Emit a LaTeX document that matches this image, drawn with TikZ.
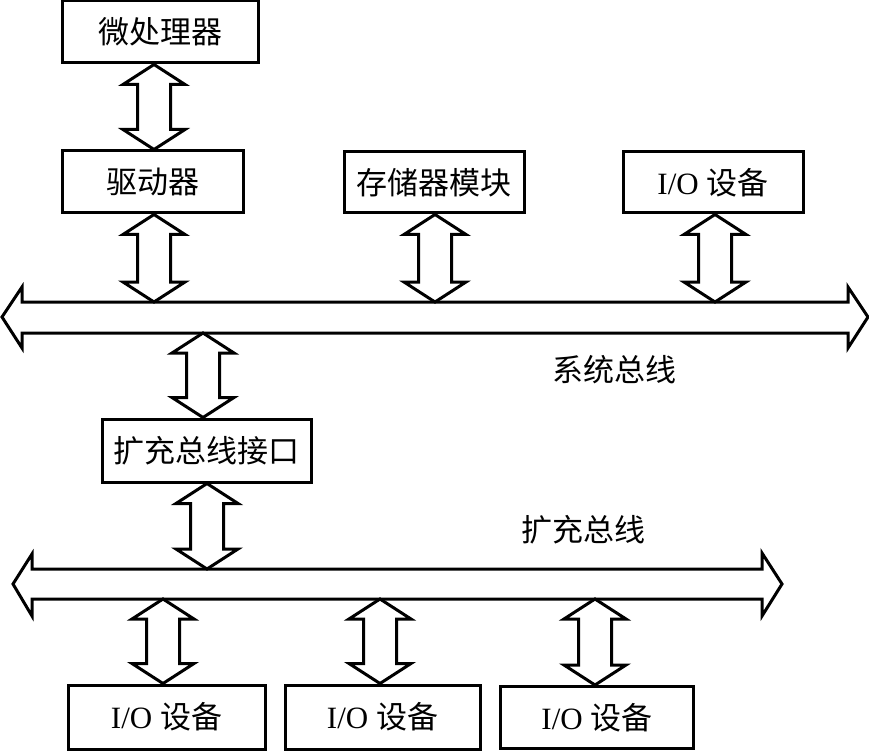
\documentclass[tikz,border=0pt]{standalone}
\usepackage{fontspec}
\setmainfont{Liberation Serif}
\newfontfamily\cjk{Noto Sans CJK SC}
\usetikzlibrary{calc}
\tikzset{
  box/.style={draw=black, line width=3pt, fill=white, inner sep=0pt, font=\fontsize{31}{34}\selectfont},
  lbl/.style={inner sep=0pt, font=\cjk\fontsize{31}{34}\selectfont},
  shape line/.style={draw=black, line width=3pt, fill=white, line join=miter},
}
% vertical double arrow between two points: head half-width 31, head length 20, shaft half-width 16.5
\newcommand\vdarrow[2]{%
  \draw[shape line] let \p1=#1, \p2=#2 in
   (\x1,\y1) -- (\x1+31pt,\y1-20pt) -- (\x1+16.5pt,\y1-20pt) -- (\x1+16.5pt,\y2+20pt)
   -- (\x1+31pt,\y2+20pt) -- (\x1,\y2) -- (\x1-31pt,\y2+20pt) -- (\x1-16.5pt,\y2+20pt)
   -- (\x1-16.5pt,\y1-20pt) -- (\x1-31pt,\y1-20pt) -- cycle;}
\begin{document}
\begin{tikzpicture}[x=1pt,y=-1pt]
\useasboundingbox (0,0) rectangle (869,751);
% system bus
\draw[shape line] (2,317) -- (22,287) -- (22,302) -- (848,302) -- (848,287) -- (868,317)
  -- (848,348) -- (848,333) -- (22,333) -- (22,348) -- cycle;
% expansion bus
\draw[shape line] (13,584) -- (32,554) -- (32,569) -- (762,569) -- (762,553) -- (782,584)
  -- (762,616) -- (762,599) -- (32,599) -- (32,616) -- cycle;
% bus coordinates
\coordinate (sb1) at (154,302);
\coordinate (sb2) at (435,302);
\coordinate (sb3) at (715,302);
\coordinate (sbd) at (203,333);
\coordinate (eb0) at (207,569);
\coordinate (eb1) at (163,599);
\coordinate (eb2) at (380,599);
\coordinate (eb3) at (595,599);
% boxes
\node[box, minimum width=196pt, minimum height=62pt] (mp) at (160,32) {\cjk 微处理器};
\node[box, minimum width=181pt, minimum height=62pt] (drv) at (152.5,182) {\cjk 驱动器};
\node[box, minimum width=180pt, minimum height=61pt] (mem) at (434,182.5) {\cjk 存储器模块};
\node[box, minimum width=180pt, minimum height=61pt] (io1) at (713,182.5) {I/O {\cjk 设备}};
\node[box, minimum width=209pt, minimum height=63pt] (ebi) at (206.5,450.5) {\cjk 扩充总线接口};
\node[box, minimum width=197pt, minimum height=64pt] (io2) at (166.5,717) {I/O {\cjk 设备}};
\node[box, minimum width=195pt, minimum height=64pt] (io3) at (382.5,717) {I/O {\cjk 设备}};
\node[box, minimum width=193pt, minimum height=62pt] (io4) at (597,717.5) {I/O {\cjk 设备}};
% double arrows
\vdarrow{($(mp.south)+(-6,0)$)}{($(drv.north)+(1.5,0)$)}
\vdarrow{($(drv.south)+(1.5,0)$)}{(sb1)}
\vdarrow{($(mem.south)+(1,0)$)}{(sb2)}
\vdarrow{($(io1.south)+(2,0)$)}{(sb3)}
\vdarrow{(sbd)}{($(ebi.north)+(-3.5,0)$)}
\vdarrow{($(ebi.south)+(0.5,0)$)}{(eb0)}
\vdarrow{(eb1)}{($(io2.north)+(-3.5,0)$)}
\vdarrow{(eb2)}{($(io3.north)+(-2.5,0)$)}
\vdarrow{(eb3)}{($(io4.north)+(-2,0)$)}
% labels
\node[lbl] (sbl) at (614,370) {系统总线};
\node[lbl] (ebl) at (583,530) {扩充总线};
\end{tikzpicture}
\end{document}
